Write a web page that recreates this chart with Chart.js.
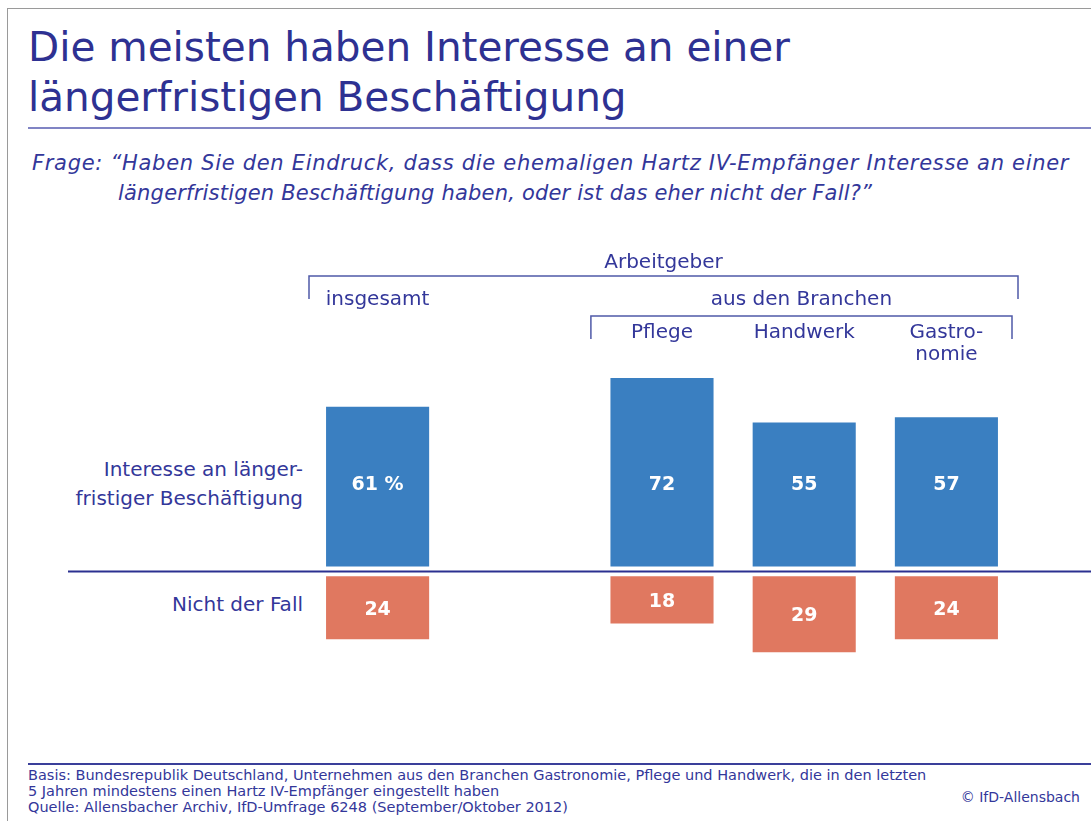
<!DOCTYPE html>
<html lang="de">
<head>
<meta charset="utf-8">
<script src="https://cdn.jsdelivr.net/npm/chart.js@4.4.1/dist/chart.umd.min.js"></script>
<style>
  html,body{margin:0;padding:0;background:#fff;}
  body{width:1091px;height:821px;position:relative;overflow:hidden;font-family:"DejaVu Sans",sans-serif;color:#33379a;}
  .abs{position:absolute;white-space:nowrap;}
  #frameTop{left:7px;top:8px;width:1084px;height:1px;background:#9a9a9a;}
  #frameLeft{left:7px;top:8px;width:1px;height:813px;background:#9a9a9a;}
  #title{left:28px;top:22px;font-size:40.5px;line-height:50px;color:#2e3192;}
  #titleLine{left:28px;top:127px;width:1063px;height:2px;background:#8084c4;}
  #question{left:32px;top:148px;font-size:21px;line-height:30px;font-style:italic;color:#33379a;}
  #question .l1{letter-spacing:0.7px;}
  #question .l2{padding-left:86px;letter-spacing:0.2px;}
  .rowlab{right:788px;text-align:right;font-size:20px;line-height:29px;}
  #footLine{left:28px;top:763px;width:1063px;height:2px;background:#3a3f9a;}
  #foot{left:28px;top:767px;font-size:14.5px;line-height:16px;}
  #copy{right:11px;top:789px;font-size:14px;}
  #wrap{position:absolute;left:0;top:0;width:1091px;height:821px;}
</style>
</head>
<body>
<div id="frameTop" class="abs"></div>
<div id="frameLeft" class="abs"></div>
<div id="title" class="abs">Die meisten haben Interesse an einer<br>längerfristigen Beschäftigung</div>
<div id="titleLine" class="abs"></div>
<div id="question" class="abs"><span class="l1">Frage: “Haben Sie den Eindruck, dass die ehemaligen Hartz IV-Empfänger Interesse an einer</span><br><span class="l2">längerfristigen Beschäftigung haben, oder ist das eher nicht der Fall?”</span></div>
<div class="abs rowlab" style="top:455px;">Interesse an länger-<br>fristiger Beschäftigung</div>
<div class="abs rowlab" style="top:590px;">Nicht der Fall</div>
<div id="footLine" class="abs"></div>
<div id="foot" class="abs">Basis: Bundesrepublik Deutschland, Unternehmen aus den Branchen Gastronomie, Pflege und Handwerk, die in den letzten<br>5 Jahren mindestens einen Hartz IV-Empfänger eingestellt haben<br>Quelle: Allensbacher Archiv, IfD-Umfrage 6248 (September/Oktober 2012)</div>
<div id="copy" class="abs">© IfD-Allensbach</div>
<div id="wrap"><canvas id="c" width="1091" height="821"></canvas></div>
<script>
// ---- data ----
const categories = ['insgesamt', '', 'Pflege', 'Handwerk', 'Gastro-\nnomie'];
const interesse = [61, null, 72, 55, 57];
const nichtDerFall = [24, null, 18, 29, 24];
const interesseLabels = ['61 %', '', '72', '55', '57'];
const nichtLabels = ['24', '', '18', '29', '24'];
const groupOuter = 'Arbeitgeber';
const groupInner = 'aus den Branchen';
const seriesNames = ['Interesse an längerfristiger Beschäftigung', 'Nicht der Fall'];

// visual gap (in value units) between bars and zero line
const GAP = 1.9;

const blue = '#3a7fc1';
const orange = '#e07860';
const textBlue = '#33379a';
const lineBlue = '#4f5aa8';

const annot = {
  id: 'annot',
  afterDatasetsDraw(chart) {
    const ctx = chart.ctx;
    const x = chart.scales.x, y = chart.scales.y;
    const area = chart.chartArea;
    const half = (x.getPixelForValue(1) - x.getPixelForValue(0)) / 2;
    ctx.save();
    // zero line
    const y0 = y.getPixelForValue(0);
    ctx.strokeStyle = '#2b3090';
    ctx.lineWidth = 2;
    ctx.beginPath(); ctx.moveTo(68, y0); ctx.lineTo(1091, y0); ctx.stroke();

    // brackets
    ctx.strokeStyle = lineBlue;
    ctx.lineWidth = 1.5;
    const oL = area.left + 2.5, oR = area.right + 0.5;
    ctx.beginPath(); ctx.moveTo(oL, 299); ctx.lineTo(oL, 276); ctx.lineTo(oR, 276); ctx.lineTo(oR, 299); ctx.stroke();
    const iL = x.getPixelForValue(2) - half, iR = area.right - 5.5;
    ctx.beginPath(); ctx.moveTo(iL, 339); ctx.lineTo(iL, 316); ctx.lineTo(iR, 316); ctx.lineTo(iR, 339); ctx.stroke();

    ctx.fillStyle = textBlue;
    ctx.font = '20px "DejaVu Sans"';
    ctx.textAlign = 'center';
    ctx.textBaseline = 'middle';
    ctx.fillText(groupOuter, (oL + oR) / 2, 263);
    ctx.fillText(groupInner, (iL + iR) / 2, 300);

    // category labels
    categories.forEach((c, i) => {
      if (!c) return;
      const cx = x.getPixelForValue(i);
      const lines = c.split('\n');
      const top = i === 0 ? 300 : 333;
      lines.forEach((ln, k) => ctx.fillText(ln, cx, top + k * 22));
    });

    // value labels
    ctx.fillStyle = '#ffffff';
    ctx.font = 'bold 19px "DejaVu Sans"';
    const m0 = chart.getDatasetMeta(0), m1 = chart.getDatasetMeta(1);
    interesse.forEach((v, i) => {
      if (v == null) return;
      const bar = m0.data[i];
      ctx.fillText(interesseLabels[i], bar.x, 485);
    });
    nichtDerFall.forEach((v, i) => {
      if (v == null) return;
      const bar = m1.data[i];
      ctx.fillText(nichtLabels[i], bar.x, (bar.y + bar.base) / 2 + 2);
    });
    ctx.restore();
  }
};

new Chart(document.getElementById('c'), {
  type: 'bar',
  data: {
    labels: categories,
    datasets: [
      { label: seriesNames[0], data: interesse.map(v => v == null ? null : [GAP, GAP + v]), backgroundColor: blue, grouped: false },
      { label: seriesNames[1], data: nichtDerFall.map(v => v == null ? null : [-GAP, -GAP - v]), backgroundColor: orange, grouped: false }
    ]
  },
  options: {
    responsive: false,
    animation: false,
    devicePixelRatio: 1,
    layout: { padding: { left: 306.5, right: 73.5, top: 362, bottom: 158 } },
    datasets: { bar: { categoryPercentage: 1, barPercentage: 0.725, borderWidth: 0 } },
    scales: {
      x: { display: false, offset: true },
      y: { display: false, min: -35, max: 80 }
    },
    plugins: { legend: { display: false }, tooltip: { enabled: false } }
  },
  plugins: [annot]
});
</script>
</body>
</html>
